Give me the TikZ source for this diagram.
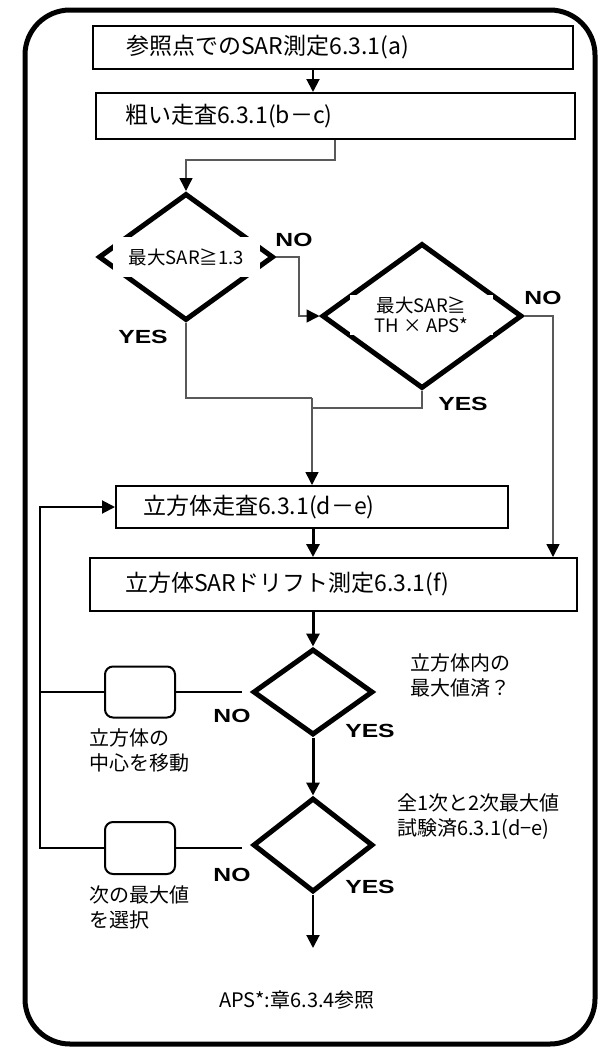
\documentclass[tikz,border=0pt]{standalone}
\usepackage{fontspec}
\newfontfamily\jp{Noto Sans CJK JP}
\newfontfamily\yn[FakeStretch=1.3]{Liberation Sans}
\usetikzlibrary{arrows.meta,shapes.geometric,calc}
\definecolor{thinc}{gray}{0.35}
\begin{document}
\begin{tikzpicture}[x=1pt,y=-1pt,
  tri/.style={-{Triangle[length=13pt,width=13pt,color=black]}},
  procbox/.style={draw,line width=2,rectangle,inner ysep=0pt,align=left,font=\jp\fontsize{23}{27}\selectfont},
  dec/.style={draw,line width=5,diamond,inner sep=0pt},
  dlab/.style={fill=white,inner sep=0pt,align=center,font=\jp\fontsize{18.5}{20}\selectfont},
  yesno/.style={font=\yn\bfseries\fontsize{19}{22}\selectfont,inner sep=0pt},
  side/.style={font=\jp\fontsize{20}{25}\selectfont,align=left,inner sep=0pt,anchor=north west},
  rbox/.style={draw,line width=2,rounded corners=8,minimum width=70,minimum height=51,inner sep=0pt},
  thinl/.style={draw=thinc,line width=1.5},
  thickl/.style={draw=black,line width=3},
  medl/.style={draw=black,line width=2}
]
\useasboundingbox (0,0) rectangle (604,1050);
\draw[line width=5,rounded corners=45] (25,10) rectangle (595,1044);

% process boxes
\node[procbox,inner xsep=33,text width=414,minimum height=43] (b1) at (333,47.5) {参照点でのSAR測定6.3.1(a)};
\node[procbox,inner xsep=29,text width=421,minimum height=46] (b2) at (335.5,116) {粗い走査6.3.1(b－c)};
\node[procbox,inner xsep=27,text width=338,minimum height=42] (b3) at (312,507) {立方体走査6.3.1(d－e)};
\node[procbox,inner xsep=35,text width=417,minimum height=53] (b4) at (333.5,584.5) {立方体SARドリフト測定6.3.1(f)};

% decisions
\node[dec,minimum width=175,minimum height=127] (d1) at (186,257) {};
\node[dec,minimum width=200,minimum height=145] (d2) at (422,316) {};
\node[dec,minimum width=120,minimum height=86] (d3) at (313,692) {};
\node[dec,minimum width=120,minimum height=94] (d4) at (313,845) {};

\node[dlab,minimum width=147,minimum height=40] (l1) at (186.5,257) {最大SAR≧1.3};
\node[dlab,minimum width=143,minimum height=40] (l2) at (421.5,315) {最大SAR≧\\TH × APS*};

% small rounded boxes
\node[rbox] (ra) at (140,692) {};
\node[rbox,minimum height=52] (rb) at (140,848) {};

% coordinates
\coordinate (mx) at (313,0);
\coordinate (j1) at (335,160);
\coordinate (j2) at (299,0);
\coordinate (j3) at (553,0);
\coordinate (j4) at (312,398);
\coordinate (j5) at (312,408);
\coordinate (lp) at (40,0);
\coordinate (endc) at (313,948);

% upper connectors
\draw[medl,tri] (b1.south -| mx) -- (b2.north -| mx);
\draw[thinl,tri] (b2.south -| j1) -- (j1) -| (d1.north);
\draw[thinl,tri] (d1.east) -- (d1.east -| j2) -- (j2 |- d2.west) -- (d2.west);
\draw[thinl,tri] (d2.east) -- (d2.east -| j3) -- (j3 |- b4.north);
\draw[thinl] (d1.south) |- (j4);
\draw[thinl] (d2.south) |- (j5);
\draw[thinl,tri] (j4) -- (b3.north);

% lower connectors
\draw[thickl,tri] (b3.south -| mx) -- (b4.north -| mx);
\draw[thickl,tri] (b4.south -| mx) -- (d3.north);
\draw[thickl,tri] (d3.south) -- (d4.north);
\draw[medl,tri] (d4.south) -- (endc);

% loops
\draw[medl,shorten <=9pt] (d3.west) -- (ra.east);
\draw[medl,shorten <=9pt] (d4.west |- rb.east) -- (rb.east);
\draw[medl] (ra.west) -- (lp |- ra.west);
\draw[medl,tri] (rb.west) -- (lp |- rb.west) -- (lp |- b3.west) -- (b3.west);

% YES / NO labels
\node[yesno] (n1) at (294,240) {NO};
\node[yesno] (y1) at (143,337) {YES};
\node[yesno] (n2) at (543,298) {NO};
\node[yesno] (y2) at (463,404) {YES};
\node[yesno] (n3) at (232,716) {NO};
\node[yesno] (y3) at (370,731) {YES};
\node[yesno] (n4) at (232,875) {NO};
\node[yesno] (y4) at (370,887) {YES};

% side texts
\node[side] (t1) at (410,653) {立方体内の\\最大値済？};
\node[side] (t2) at (397,793) {全1次と2次最大値\\試験済6.3.1(d−e)};
\node[side] (t3) at (89,728) {立方体の\\中心を移動};
\node[side] (t4) at (89,885) {次の最大値\\を選択};
\node[font=\jp\fontsize{20}{24}\selectfont,inner sep=0pt] (fn) at (297,1000) {APS*:章6.3.4参照};
\end{tikzpicture}
\end{document}
